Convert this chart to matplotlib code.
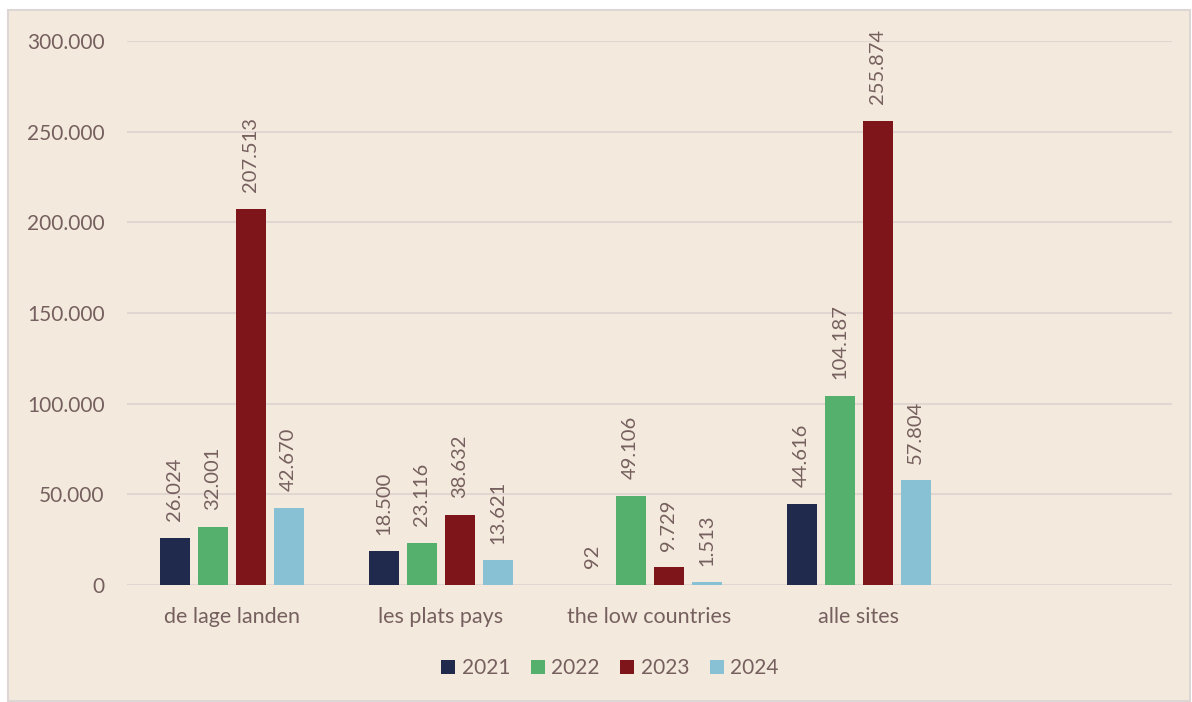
import matplotlib.pyplot as plt
import numpy as np
from matplotlib.patches import Rectangle

categories = ["de lage landen", "les plats pays", "the low countries", "alle sites", ""]
years = ["2021", "2022", "2023", "2024"]
values = {
    "2021": [26024, 18500, 92, 44616, None],
    "2022": [32001, 23116, 49106, 104187, None],
    "2023": [207513, 38632, 9729, 255874, None],
    "2024": [42670, 13621, 1513, 57804, None],
}
colors = ["#1F2A4C", "#55B06E", "#7E151B", "#88C1D4"]

BG = "#F3EADD"
TXT = "#76605F"
GRID = "#E2D6D2"

plt.rcParams["font.family"] = ["Lato", "DejaVu Sans"]

W, H = 1192, 702
fig = plt.figure(figsize=(W / 100, H / 100), dpi=100)
fig.patch.set_facecolor("white")
fig.patches.append(Rectangle((8 / W, 1 - 701 / H), 1182 / W, 691 / H,
                             transform=fig.transFigure, facecolor=BG,
                             edgecolor="#DCD6D4", linewidth=1.5, zorder=-1))

ax = fig.add_axes([127 / W, 1 - 585 / H, (1172 - 127) / W, (585 - 41) / H])
ax.set_facecolor(BG)
ax.patch.set_alpha(0)

x = np.arange(len(categories))
bar_w = 30 / 209
step = 38 / 209
fmt = lambda v: f"{v:,.0f}".replace(",", ".")

for i, (yr, c) in enumerate(zip(years, colors)):
    vals = [v if v is not None else 0 for v in values[yr]]
    pos = x + (i - 1.5) * step
    ax.bar(pos, vals, width=bar_w, color=c, label=yr, zorder=3)
    for xp, v in zip(pos, values[yr]):
        if v is None:
            continue
        ax.annotate(fmt(v), (xp, v), xytext=(0, 12), textcoords="offset points",
                    rotation=90, ha="center", va="bottom", fontsize=14.5,
                    color=TXT)

ax.set_xlim(-0.5, len(categories) - 0.5)
ax.set_ylim(0, 300000)
ax.set_yticks(np.arange(0, 300001, 50000))
ax.yaxis.set_major_formatter(plt.FuncFormatter(lambda v, p: fmt(v)))
ax.set_xticks(x)
ax.set_xticklabels(categories)
ax.tick_params(axis="y", length=0, labelsize=15, colors=TXT, pad=16)
ax.tick_params(axis="x", length=0, labelsize=15.5, colors=TXT, pad=16)
ax.grid(axis="y", color=GRID, linewidth=1.5, zorder=0)
for s in ax.spines.values():
    s.set_visible(False)

fig.legend(loc="center", bbox_to_anchor=(610 / W, 1 - 668 / H), ncol=4,
           frameon=False, fontsize=15, handlelength=0.67, handleheight=0.67,
           handletextpad=0.3, columnspacing=1.0, labelcolor=TXT)

fig.savefig("out.png", dpi=100, facecolor="white")
